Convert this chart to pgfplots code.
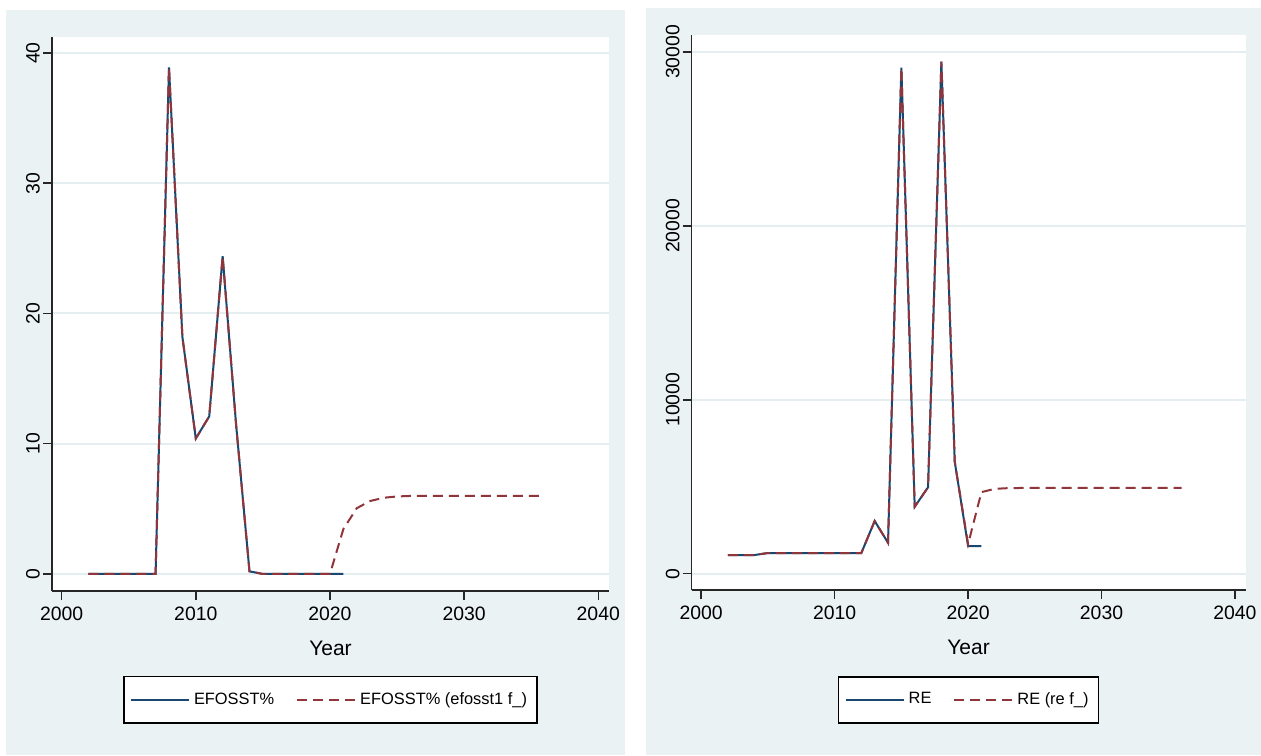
\documentclass[border=0pt]{standalone}
\usepackage{fontspec}
\setmainfont{Liberation Sans}
\usepackage{pgfplots}
\usepackage{pgfplotstable}
\pgfplotsset{compat=1.18}

\definecolor{stbg}{RGB}{234,242,243}
\definecolor{stgrid}{RGB}{228,237,239}
\definecolor{stnavy}{RGB}{26,71,111}
\definecolor{stmaroon}{RGB}{144,53,59}

% EFOSST% observed and forecast
\pgfplotstableread{
year val
2002 0
2003 0
2004 0
2005 0
2006 0
2007 0
2008 38.9
2009 18.2
2010 10.4
2011 12.1
2012 24.4
2013 11.5
2014 0.2
2015 0
2016 0
2017 0
2018 0
2019 0
2020 0
2021 0
}\efobs
\pgfplotstableread{
year val
2002 0
2003 0
2004 0
2005 0
2006 0
2007 0
2008 38.9
2009 18.2
2010 10.4
2011 12.1
2012 24.4
2013 11.5
2014 0.2
2015 0
2016 0
2017 0
2018 0
2019 0
2020 0
2021 3.45
2022 5.05
2023 5.6
2024 5.85
2025 5.95
2026 5.99
2027 6.0
2028 6.0
2029 6.0
2030 6.0
2031 6.0
2032 6.0
2033 6.0
2034 6.0
2035 6.0
2036 6.0
}\effc
% RE observed and forecast
\pgfplotstableread{
year val
2002 1075
2003 1075
2004 1075
2005 1190
2006 1190
2007 1190
2008 1190
2009 1190
2010 1190
2011 1190
2012 1190
2013 3030
2014 1780
2015 29100
2016 3850
2017 4970
2018 29450
2019 6440
2020 1590
2021 1590
}\reobs
\pgfplotstableread{
year val
2002 1075
2003 1075
2004 1075
2005 1190
2006 1190
2007 1190
2008 1190
2009 1190
2010 1190
2011 1190
2012 1190
2013 3030
2014 1780
2015 29100
2016 3850
2017 4970
2018 29450
2019 6440
2020 1700
2021 4690
2022 4880
2023 4920
2024 4930
2025 4930
2026 4930
2027 4930
2028 4930
2029 4930
2030 4930
2031 4930
2032 4930
2033 4930
2034 4930
2035 4930
2036 4930
}\refc

\pgfplotsset{
  statastyle/.style={
    scale only axis,
    axis x line*=bottom, axis y line*=left,
    axis line style={line width=0.75pt, black!85},
    tick align=outside, major tick length=4.5pt,
    every tick/.style={line width=0.75pt, black!85},
    minor tick num=0,
    axis background/.style={fill=white},
    xmin=1999.28, xmax=2040.8,
    xtick={2000,2010,2020,2030,2040},
    ymajorgrids, grid style={stgrid, line width=1pt},
    scaled y ticks=false,
    /pgf/number format/assume math mode=true,
    /pgf/number format/1000 sep={},
    ticklabel style={font=\fontsize{9.7}{11}\selectfont},
    yticklabel style={rotate=90, anchor=south},
    yticklabel shift=-2pt,
    xlabel={Year},
    every axis x label/.style={at={(axis description cs:0.5,0)}, yshift=-28.5pt,
      anchor=center, font=\fontsize{10.5}{12}\selectfont},
    legend columns=2,
    legend cell align=left,
    legend image code/.code={\draw[#1] (0pt,0pt) -- (29pt,0pt);},
    legend style={anchor=north, draw=black, line width=0.75pt, fill=white,
      inner xsep=3pt, inner ysep=5.8pt,
      font=\fontsize{8.2}{10}\selectfont,
      /tikz/every even column/.append style={column sep=9pt}},
  }
}

\begin{document}
\begin{tikzpicture}
\path[use as bounding box] (0,0) rectangle (630.5pt,377.5pt);
\fill[white] (0,0) rectangle (630.5pt,377.5pt);
\fill[stbg] (3pt,0) rectangle (312.5pt,372.5pt);
\fill[stbg] (323pt,0) rectangle (630.5pt,373.5pt);

\begin{axis}[statastyle,
  at={(26pt,82pt)}, anchor=south west,
  width=278.5pt, height=277pt,
  ymin=-1.31, ymax=41.23, ytick={0,10,20,30,40},
  legend style={at={(0.5,-0.1534)}}]
\addplot[stnavy, line width=1pt] table[x=year, y=val] {\efobs};
\addlegendentry{EFOSST\%}
\addplot[stmaroon, line width=1pt, dash pattern=on 5pt off 3pt] table[x=year, y=val] {\effc};
\addlegendentry{EFOSST\% (efosst1 f\_)}
\end{axis}

\begin{axis}[statastyle,
  at={(345.8pt,82.5pt)}, anchor=south west,
  width=277pt, height=277.5pt,
  ymin=-937, ymax=30977, ytick={0,10000,20000,30000},
  legend style={at={(0.5,-0.155)}}]
\addplot[stnavy, line width=1pt] table[x=year, y=val] {\reobs};
\addlegendentry{RE}
\addplot[stmaroon, line width=1pt, dash pattern=on 5pt off 3pt] table[x=year, y=val] {\refc};
\addlegendentry{RE (re f\_)}
\end{axis}
\end{tikzpicture}
\end{document}
